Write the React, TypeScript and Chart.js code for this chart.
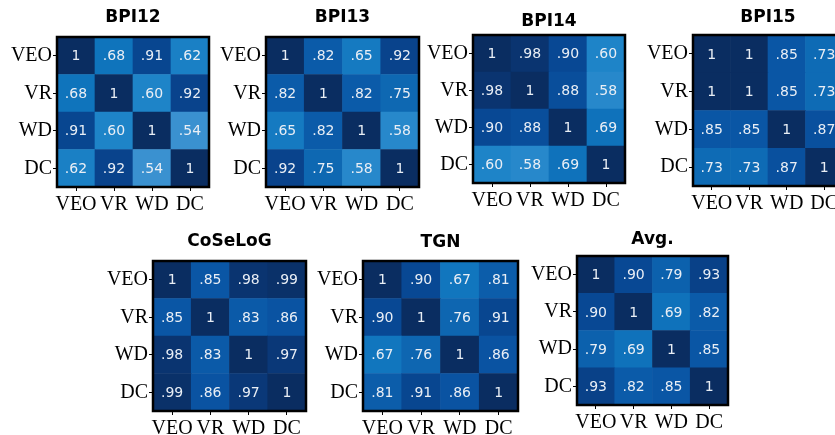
import React, { useEffect, useRef } from 'react';
import { Chart, registerables } from 'chart.js';
Chart.register(...registerables);

const axisLabels = ['VEO', 'VR', 'WD', 'DC'];
const titles = ['BPI12', 'BPI13', 'BPI14', 'BPI15', 'CoSeLoG', 'TGN', 'Avg.'];

const bpi12 = [[1, .68, .91, .62], [.68, 1, .60, .92], [.91, .60, 1, .54], [.62, .92, .54, 1]];
const bpi13 = [[1, .82, .65, .92], [.82, 1, .82, .75], [.65, .82, 1, .58], [.92, .75, .58, 1]];
const bpi14 = [[1, .98, .90, .60], [.98, 1, .88, .58], [.90, .88, 1, .69], [.60, .58, .69, 1]];
const bpi15 = [[1, 1, .85, .73], [1, 1, .85, .73], [.85, .85, 1, .87], [.73, .73, .87, 1]];
const coselog = [[1, .85, .98, .99], [.85, 1, .83, .86], [.98, .83, 1, .97], [.99, .86, .97, 1]];
const tgn = [[1, .90, .67, .81], [.90, 1, .76, .91], [.67, .76, 1, .86], [.81, .91, .86, 1]];
const avg = [[1, .90, .79, .93], [.90, 1, .69, .82], [.79, .69, 1, .85], [.93, .82, .85, 1]];

const matrices = [bpi12, bpi13, bpi14, bpi15, coselog, tgn, avg];

// layout (page pixels): plot box and title centre line
const boxes = [
  { l: 57, t: 37, r: 209, b: 187, ty: 18 },
  { l: 266, t: 37, r: 419, b: 187, ty: 18 },
  { l: 473, t: 35, r: 625, b: 183, ty: 22 },
  { l: 693, t: 35, r: 843, b: 186, ty: 18 },
  { l: 153, t: 261, r: 306, b: 411, ty: 242 },
  { l: 363, t: 261, r: 518, b: 411, ty: 243 },
  { l: 577, t: 256, r: 728, b: 405, ty: 240 },
];

const stops: [number, number[]][] = [
  [0.54, [58, 145, 208]],
  [0.60, [30, 132, 200]],
  [0.68, [15, 116, 188]],
  [0.75, [14, 104, 178]],
  [0.85, [10, 86, 165]],
  [0.90, [8, 72, 148]],
  [0.97, [10, 56, 120]],
  [1.00, [10, 45, 97]],
];

function colorFor(v: number): string {
  if (v <= stops[0][0]) return `rgb(${stops[0][1].join(',')})`;
  for (let i = 1; i < stops.length; i++) {
    const [v1, c1] = stops[i];
    const [v0, c0] = stops[i - 1];
    if (v <= v1) {
      const f = (v - v0) / (v1 - v0);
      const c = c0.map((x, k) => Math.round(x + (c1[k] - x) * f));
      return `rgb(${c.join(',')})`;
    }
  }
  return `rgb(${stops[stops.length - 1][1].join(',')})`;
}

function fmt(v: number): string {
  if (v >= 1) return '1';
  return v.toFixed(2).replace(/^0/, '');
}

const PADL = 60, PADT = 45, PADR = 10, XH = 30, PADB = 5;

function Heatmap({ idx }: { idx: number }) {
  const ref = useRef<HTMLCanvasElement>(null);
  const box = boxes[idx];
  const matrix = matrices[idx];
  const title = titles[idx];
  const w = box.r - box.l, h = box.b - box.t;
  const cw = w + PADL + PADR, ch = h + PADT + XH + PADB;
  const cl = box.l - PADL, ct = box.t - PADT;

  useEffect(() => {
    const rowsBottomUp = [...matrix].reverse();
    const datasets = rowsBottomUp.map((row, i) => ({
      label: axisLabels[3 - i],
      data: row.map(() => 1),
      backgroundColor: row.map(colorFor),
      borderWidth: 0,
      barPercentage: 1,
      categoryPercentage: 1,
    }));
    const cellPlugin = {
      id: 'cells',
      afterDatasetsDraw(chart: any) {
        const ctx = chart.ctx;
        ctx.save();
        ctx.fillStyle = '#e9eef5';
        ctx.font = '14px "DejaVu Sans"';
        ctx.textAlign = 'center';
        ctx.textBaseline = 'middle';
        chart.data.datasets.forEach((ds: any, di: number) => {
          const meta = chart.getDatasetMeta(di);
          const row = rowsBottomUp[di];
          meta.data.forEach((el: any, j: number) => {
            const cy = (el.y + el.base) / 2;
            ctx.fillText(fmt(row[j]), el.x, cy + 1);
          });
        });
        const a = chart.chartArea;
        ctx.strokeStyle = '#000';
        ctx.lineWidth = 2.5;
        ctx.strokeRect(a.left, a.top, a.right - a.left, a.bottom - a.top);
        ctx.fillStyle = '#000';
        ctx.font = 'bold 17px "DejaVu Sans"';
        ctx.fillText(title, (a.left + a.right) / 2, box.ty - ct);
        ctx.restore();
      },
    };
    const chart = new Chart(ref.current!, {
      type: 'bar',
      data: { labels: axisLabels, datasets },
      options: {
        animation: false,
        responsive: false,
        maintainAspectRatio: false,
        layout: { padding: { left: 0, top: PADT, right: PADR, bottom: PADB } },
        plugins: { legend: { display: false }, tooltip: { enabled: false }, title: { display: false } },
        scales: {
          x: {
            type: 'category',
            stacked: true,
            offset: true,
            grid: { display: true, drawOnChartArea: false, drawTicks: true, tickLength: 4, color: '#000', offset: false },
            border: { display: false },
            ticks: { font: { family: 'Liberation Serif', size: 20 }, color: '#000', padding: 2, maxRotation: 0, autoSkip: false },
            afterFit: (s: any) => { s.height = XH; },
          },
          y: {
            type: 'linear',
            stacked: true,
            min: 0,
            max: 4,
            grid: { display: true, drawOnChartArea: false, drawTicks: true, tickLength: 4, color: '#000' },
            border: { display: false },
            afterBuildTicks: (s: any) => { s.ticks = [0.5, 1.5, 2.5, 3.5].map((v) => ({ value: v })); },
            ticks: {
              font: { family: 'Liberation Serif', size: 20 },
              color: '#000',
              padding: 1,
              callback: (v: any) => axisLabels[3 - Math.floor(Number(v))],
            },
            afterFit: (s: any) => { s.width = PADL; },
          },
        },
      } as any,
      plugins: [cellPlugin],
    });
    return () => chart.destroy();
  }, []);

  return (
    <canvas
      ref={ref}
      width={cw}
      height={ch}
      style={{ position: 'absolute', left: cl, top: ct, width: cw, height: ch }}
    />
  );
}

export default function App() {
  return (
    <div style={{ position: 'absolute', left: 0, top: 0, width: 835, height: 435, overflow: 'hidden', background: '#fff' }}>
      {titles.map((_, i) => <Heatmap key={i} idx={i} />)}
    </div>
  );
}
